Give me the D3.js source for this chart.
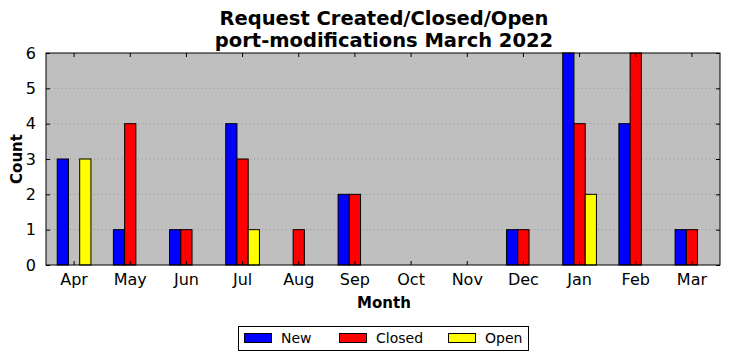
<!DOCTYPE html>
<html><head><meta charset="utf-8">
<script src="https://cdn.jsdelivr.net/npm/d3@7"></script>
<style>body{margin:0;background:#fff}svg{display:block;font-family:"DejaVu Sans",sans-serif}</style>
</head><body><svg id="c" width="731" height="361"></svg>
<script>
const months = ["Apr","May","Jun","Jul","Aug","Sep","Oct","Nov","Dec","Jan","Feb","Mar"];
const newVals = [3,1,1,4,0,2,0,0,1,6,4,1];
const closedVals = [0,4,1,3,1,2,0,0,1,4,6,1];
const openVals = [3,0,0,1,0,0,0,0,0,2,0,0];
const seriesNames = ["New","Closed","Open"];
const seriesColors = ["#0000ff","#ff0000","#ffff00"];
const yTicks = [0,1,2,3,4,5,6];

const svg = d3.select("#c");
const L=46,R=720,T=53,B=265;
const x = d3.scaleBand().domain(months).range([L,R]).padding(0);
const y = d3.scaleLinear().domain([0,6]).range([B,T]);
const bw = x.bandwidth()*0.2;

svg.append("rect").attr("x",L).attr("y",T).attr("width",R-L).attr("height",B-T).attr("fill","#bfbfbf");
// grid
svg.append("g").selectAll("line").data(yTicks.slice(1,-1)).join("line")
  .attr("x1",L).attr("x2",R).attr("y1",d=>y(d)).attr("y2",d=>y(d))
  .attr("stroke","#8c8c8c").attr("stroke-width",0.8).attr("stroke-dasharray","1,3");

const data = [newVals,closedVals,openVals];
data.forEach((vals,si)=>{
  svg.append("g").selectAll("rect").data(vals).join("rect")
    .attr("x",(d,i)=>x(months[i])+x.bandwidth()/2-1.5*bw+si*bw)
    .attr("y",d=>y(d)).attr("width",bw).attr("height",d=>y(0)-y(d))
    .attr("fill",seriesColors[si]).attr("stroke","#000").attr("stroke-width",1);
});

// frame
svg.append("rect").attr("x",L).attr("y",T).attr("width",R-L).attr("height",B-T).attr("fill","none").attr("stroke","#000").attr("stroke-width",1);

// axes
const xb = svg.append("g").attr("transform",`translate(0,${B})`).call(d3.axisBottom(x).tickSizeInner(-4).tickSizeOuter(0).tickPadding(9));
const xt = svg.append("g").attr("transform",`translate(0,${T})`).call(d3.axisTop(x).tickSizeInner(-4).tickSizeOuter(0).tickFormat(""));
const yl = svg.append("g").attr("transform",`translate(${L},0)`).call(d3.axisLeft(y).tickValues(yTicks).tickFormat(d3.format("d")).tickSizeInner(-4).tickSizeOuter(0).tickPadding(10));
const yr = svg.append("g").attr("transform",`translate(${R},0)`).call(d3.axisRight(y).tickValues(yTicks).tickSizeInner(-4).tickSizeOuter(0).tickFormat(""));
[xb,xt,yl,yr].forEach(g=>{g.select(".domain").remove();g.selectAll("line").attr("stroke","#000");g.selectAll("text").attr("font-size",16).attr("font-family","DejaVu Sans").attr("fill","#000");});

// titles
svg.append("text").attr("x",384).attr("y",25).attr("text-anchor","middle").attr("font-size",19.5).attr("font-weight","bold").text("Request Created/Closed/Open");
svg.append("text").attr("x",384).attr("y",47).attr("text-anchor","middle").attr("font-size",19.5).attr("font-weight","bold").text("port-modifications March 2022");
svg.append("text").attr("x",384).attr("y",308).attr("text-anchor","middle").attr("font-size",15).attr("font-weight","bold").text("Month");
svg.append("text").attr("transform","translate(22,159) rotate(-90)").attr("text-anchor","middle").attr("font-size",15).attr("font-weight","bold").text("Count");

// legend
const lg = svg.append("g");
lg.append("rect").attr("x",238.5).attr("y",326.5).attr("width",290).attr("height",24).attr("fill","#fff").attr("stroke","#000");
const lx=[244,339,448];
seriesNames.forEach((n,i)=>{
  lg.append("rect").attr("x",lx[i]+0.5).attr("y",333.5).attr("width",27).attr("height",9).attr("fill",seriesColors[i]).attr("stroke","#000");
  lg.append("text").attr("x",lx[i]+37).attr("y",343).attr("font-size",14).text(n);
});
</script></body></html>
